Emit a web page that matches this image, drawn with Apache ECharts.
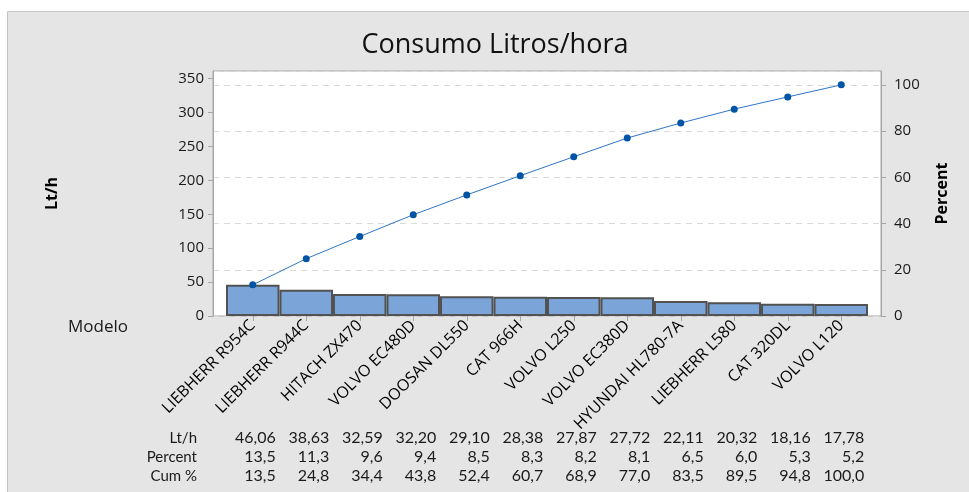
<!DOCTYPE html>
<html>
<head>
<meta charset="utf-8">
<script src="https://cdn.jsdelivr.net/npm/echarts@6/dist/echarts.min.js"></script>
<style>
  html, body { margin: 0; padding: 0; background: #fff; }
  #chart { width: 969px; height: 492px; }
</style>
</head>
<body>
<div id="chart"></div>
<script>
// datos del diagrama de Pareto
var modelos = ['LIEBHERR R954C', 'LIEBHERR R944C', 'HITACH ZX470', 'VOLVO EC480D', 'DOOSAN DL550',
  'CAT 966H', 'VOLVO L250', 'VOLVO EC380D', 'HYUNDAI HL780-7A', 'LIEBHERR L580', 'CAT 320DL', 'VOLVO L120'];
var litrosHora = [46.06, 38.63, 32.59, 32.20, 29.10, 28.38, 27.87, 27.72, 22.11, 20.32, 18.16, 17.78];
var porcentaje = [13.5, 11.3, 9.6, 9.4, 8.5, 8.3, 8.2, 8.1, 6.5, 6.0, 5.3, 5.2];
var porcAcum = [13.5, 24.8, 34.4, 43.8, 52.4, 60.7, 68.9, 77.0, 83.5, 89.5, 94.8, 100.0];
var filas = ['Lt/h', 'Percent', 'Cum %'];
var ticksIzq = [0, 50, 100, 150, 200, 250, 300, 350];
var ticksDer = [0, 20, 40, 60, 80, 100];

var total = litrosHora.reduce(function (a, b) { return a + b; }, 0);
var PCT_MAX = 106;               // el eje de porcentaje llega un poco mas arriba de 100
var LT_MAX = total * PCT_MAX / 100;

var fuente = 'Open Sans';
var fuenteTabla = 'Lato';
var colorTexto = '#1a1a1a';
var filaY = [438, 457, 476];     // altura de cada fila de la tabla

function coma(v, d) {
  return v.toFixed(d).replace('.', ',');
}

/**
 * eje de categorias usado como fila de la tabla inferior
 */
function filaTabla(offset, valores, dec) {
  return {
    gridIndex: 1,
    type: 'category',
    position: 'bottom',
    offset: offset,
    data: modelos,
    axisLine: { show: false },
    axisTick: { show: false },
    axisLabel: {
      interval: 0,
      margin: 0,
      verticalAlign: 'middle',
      formatter: function (v, i) { return '{v|' + coma(valores[i], dec) + '}'; },
      rich: { v: { width: 46, align: 'right', fontFamily: fuenteTabla, fontSize: 16, color: colorTexto } }
    }
  };
}

// titulos de las filas de la tabla
var textosFila = filas.map(function (t, i) {
  return {
    type: 'text',
    x: 197,
    y: filaY[i],
    style: { text: t, align: 'right', verticalAlign: 'middle', font: '15px ' + fuenteTabla, fill: colorTexto }
  };
});

var chart = echarts.init(document.getElementById('chart'), null, { renderer: 'canvas' });

var option = {
  backgroundColor: '#fff',
  animation: false,
  graphic: [{
    type: 'rect',
    z: -100,
    shape: { x: 7.5, y: 11.5, width: 970, height: 490 },
    style: { fill: '#e5e5e5', stroke: '#c6c6c6', lineWidth: 1 }
  }].concat(textosFila),
  title: {
    text: 'Consumo Litros/hora',
    left: 490,
    textAlign: 'center',
    top: 27,
    textStyle: { fontFamily: fuente, fontSize: 27, fontWeight: 'normal', color: '#111' }
  },
  grid: [
    // marco del grafico
    { left: 213, right: 88, top: 71, bottom: 176, show: true, backgroundColor: '#fff', borderColor: '#a6a6a6', borderWidth: 1 },
    // zona de barras
    { left: 226, right: 101, top: 71, bottom: 176 }
  ],
  xAxis: [
    { gridIndex: 0, type: 'category', data: [''], show: false },
    {
      gridIndex: 1,
      type: 'category',
      data: modelos,
      name: 'Modelo',
      nameLocation: 'start',
      nameGap: 98,
      nameTextStyle: { fontFamily: fuente, fontSize: 17, color: colorTexto, align: 'right', verticalAlign: 'top', padding: [3, 0, 0, 0] },
      axisLine: { show: false },
      axisTick: { show: true, alignWithLabel: true, length: 5, lineStyle: { color: '#a6a6a6' } },
      axisLabel: { interval: 0, rotate: 45, margin: 7, fontFamily: fuente, fontSize: 16, color: '#000' }
    },
    filaTabla(filaY[0] - 316, litrosHora, 2),
    filaTabla(filaY[1] - 316, porcentaje, 1),
    filaTabla(filaY[2] - 316, porcAcum, 1)
  ],
  yAxis: [
    {
      gridIndex: 0,
      type: 'value',
      min: 0,
      max: LT_MAX,
      interval: 50,
      name: 'Lt/h',
      nameLocation: 'middle',
      nameRotate: 90,
      nameGap: 153,
      nameTextStyle: { fontFamily: fuente, fontSize: 16, fontWeight: 'bold', color: '#000' },
      axisLine: { show: true, lineStyle: { color: '#a6a6a6' } },
      axisTick: { show: true, length: 5, lineStyle: { color: '#a6a6a6' } },
      splitLine: { show: false },
      axisLabel: {
        margin: 9, fontFamily: fuente, fontSize: 15, color: colorTexto,
        showMaxLabel: false,
        formatter: function (v) { return ticksIzq.indexOf(v) >= 0 ? String(v) : ''; }
      }
    },
    {
      gridIndex: 0,
      type: 'value',
      position: 'right',
      min: 0,
      max: PCT_MAX,
      interval: 20,
      name: 'Percent',
      nameLocation: 'middle',
      nameRotate: 90,
      nameGap: 53,
      nameTextStyle: { fontFamily: fuente, fontSize: 16, fontWeight: 'bold', color: '#000' },
      axisLine: { show: true, lineStyle: { color: '#a6a6a6' } },
      axisTick: { show: true, length: 5, lineStyle: { color: '#a6a6a6' } },
      splitLine: { show: true, lineStyle: { color: '#d9d9d9', type: [6, 5] } },
      axisLabel: {
        margin: 13, fontFamily: fuente, fontSize: 15, color: colorTexto,
        showMaxLabel: false,
        formatter: function (v) { return ticksDer.indexOf(v) >= 0 ? String(v) : ''; }
      }
    },
    { gridIndex: 1, type: 'value', min: 0, max: LT_MAX, show: false, splitLine: { show: false } },
    { gridIndex: 1, type: 'value', min: 0, max: PCT_MAX, show: false, splitLine: { show: false } }
  ],
  series: [
    {
      name: 'Lt/h',
      type: 'bar',
      xAxisIndex: 1,
      yAxisIndex: 2,
      data: litrosHora,
      barCategoryGap: 0,
      itemStyle: { color: '#7ba4d9', borderColor: '#525252', borderWidth: 2 }
    },
    {
      name: 'Cum %',
      type: 'line',
      xAxisIndex: 1,
      yAxisIndex: 3,
      data: porcAcum,
      z: 5,
      symbol: 'circle',
      symbolSize: 7,
      itemStyle: { color: '#0054a6' },
      lineStyle: { color: '#2f76c8', width: 1 }
    }
  ]
};

chart.setOption(option);
</script>
</body>
</html>
